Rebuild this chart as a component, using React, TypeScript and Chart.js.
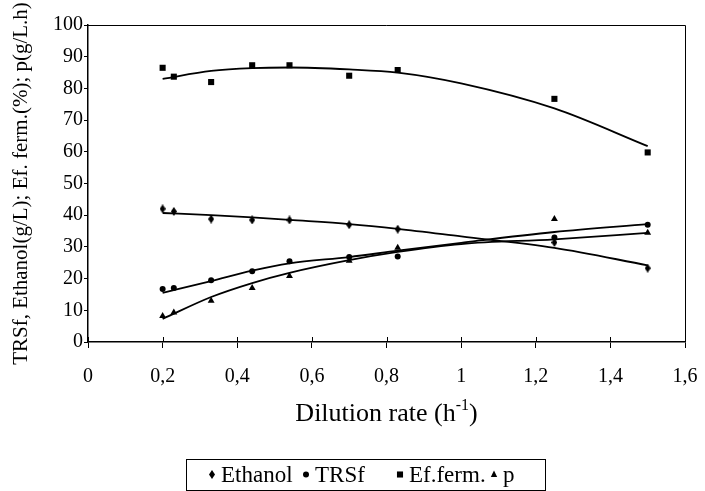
import React, { useEffect, useRef } from 'react';
import { Chart, registerables } from 'chart.js';

Chart.register(...registerables);

// ---- data ----
const dilutionRate = [0.2, 0.23, 0.33, 0.44, 0.54, 0.7, 0.83, 1.25, 1.5];
const ethanol = [42, 41.2, 38.8, 38.5, 38.5, 37, 35.6, 31.4, 23.3];
const trsf = [16.7, 17, 19.5, 22.3, 25.5, 26.8, 27, 33, 37];
const efFerm = [86.5, 83.7, 82, 87.3, 87.3, 84, 85.8, 76.7, 59.8];
const productivity = [8.2, 9.3, 13, 17, 20.8, 25.6, 29.7, 38.8, 34.5];

// trend lines (at these dilution rates)
const trendX = [0.2, 0.33, 0.44, 0.54, 0.7, 0.83, 1.0, 1.25, 1.5];
const ethanolTrend = [40.7, 40, 39.3, 38.5, 37.2, 35.7, 33.3, 29.7, 24.2];
const trsfTrend = [15.5, 19.2, 22.5, 24.8, 26.8, 28.8, 31.3, 34.7, 37.2];
const efFermTrend = [83, 85.5, 86.4, 86.6, 86, 85, 81.6, 73.7, 61.8];
const productivityTrend = [7.3, 14.2, 18.6, 21.8, 25.8, 28.4, 30.9, 32.4, 34.4];

const xTickLabels = ['0', '0,2', '0,4', '0,6', '0,8', '1', '1,2', '1,4', '1,6'];
const yTickLabels = ['0', '10', '20', '30', '40', '50', '60', '70', '80', '90', '100'];

const seriesLabels = ['Ethanol', 'TRSf', 'Ef.ferm.', 'p'];
const yTitle = 'TRSf, Ethanol(g/L); Ef. ferm.(%); p(g/L.h)';
const xTitleMain = 'Dilution rate (h';
const xTitleSup = '-1';
const xTitleEnd = ')';

const FONT = "'Liberation Serif', 'Times New Roman', serif";

function makeDiamond(w: number, h: number): HTMLCanvasElement {
  const c = document.createElement('canvas');
  c.width = w;
  c.height = h;
  const g = c.getContext('2d')!;
  g.fillStyle = '#000';
  g.beginPath();
  g.moveTo(w / 2, 0);
  g.lineTo(w, h / 2);
  g.lineTo(w / 2, h);
  g.lineTo(0, h / 2);
  g.closePath();
  g.fill();
  return c;
}

const pts = (xs: number[], ys: number[]) => xs.map((x, i) => ({ x, y: ys[i] }));

export default function App() {
  const ref = useRef<HTMLCanvasElement>(null);

  useEffect(() => {
    let chart: Chart | null = null;
    let cancelled = false;

    const build = () => {
      if (cancelled || !ref.current) return;
      const diamond = makeDiamond(6, 9);
      const styles: any[] = [diamond, 'circle', 'rect', 'triangle'];
      const radii = [4, 3, 4.3, 4];

      const decor = {
        id: 'decor',
        afterDraw(ch: any) {
          const { ctx, chartArea } = ch;
          const { left, right, top, bottom } = chartArea;
          ctx.save();
          ctx.strokeStyle = '#000';
          ctx.lineWidth = 1;
          ctx.beginPath();
          ctx.moveTo(left, top + 0.5);
          ctx.lineTo(right + 0.5, top + 0.5);
          ctx.lineTo(right + 0.5, bottom);
          ctx.stroke();
          const xs = ch.scales.x;
          xs.ticks.forEach((t: any) => {
            const px = Math.round(xs.getPixelForValue(t.value)) + 0.5;
            ctx.beginPath();
            ctx.moveTo(px, bottom);
            ctx.lineTo(px, bottom - 5);
            ctx.stroke();
          });
          // x title with superscript
          ctx.fillStyle = '#000';
          ctx.textBaseline = 'alphabetic';
          const bigFont = `26px ${FONT}`;
          const supFont = `16px ${FONT}`;
          ctx.font = bigFont;
          const w1 = ctx.measureText(xTitleMain).width;
          const w3 = ctx.measureText(xTitleEnd).width;
          ctx.font = supFont;
          const w2 = ctx.measureText(xTitleSup).width;
          const total = w1 + w2 + w3;
          const cx = (left + right) / 2;
          const x0 = cx - total / 2;
          const base = 421;
          ctx.textAlign = 'left';
          ctx.font = bigFont;
          ctx.fillText(xTitleMain, x0, base);
          ctx.font = supFont;
          ctx.fillText(xTitleSup, x0 + w1, base - 11);
          ctx.font = bigFont;
          ctx.fillText(xTitleEnd, x0 + w1 + w2, base);

          // legend
          const bx = 186, by = 459, bw = 359, bh = 31;
          ctx.lineWidth = 1;
          ctx.strokeRect(bx + 0.5, by + 0.5, bw, bh);
          ctx.font = `23px ${FONT}`;
          ctx.textBaseline = 'middle';
          const cy = by + bh / 2 + 1;
          const colW = 94;
          const startX = bx + 22;
          seriesLabels.forEach((lab, i) => {
            const colX = startX + i * colW;
            const mx = colX + 4;
            const st = styles[i];
            const r = radii[i];
            ctx.fillStyle = '#000';
            if (st === 'circle') {
              ctx.beginPath();
              ctx.arc(mx, cy - 1, r, 0, Math.PI * 2);
              ctx.fill();
            } else if (st === 'rect') {
              const s = r * Math.SQRT1_2;
              ctx.fillRect(mx - s, cy - 1 - s, 2 * s, 2 * s);
            } else if (st === 'triangle') {
              ctx.beginPath();
              ctx.moveTo(mx, cy - 1 - r);
              ctx.lineTo(mx + r * 0.8, cy - 1 + r * 0.6);
              ctx.lineTo(mx - r * 0.8, cy - 1 + r * 0.6);
              ctx.closePath();
              ctx.fill();
            } else {
              ctx.drawImage(st, mx - st.width / 2, cy - 1 - st.height / 2);
            }
            ctx.fillText(lab, colX + 13, cy);
          });
          ctx.restore();
        },
      };

      const scatterSets = [ethanol, trsf, efFerm, productivity].map((ys, i) => ({
        type: 'scatter' as const,
        label: seriesLabels[i],
        data: pts(dilutionRate, ys),
        pointStyle: styles[i],
        pointRadius: radii[i],
        backgroundColor: '#000',
        borderColor: '#000',
        borderWidth: 0,
        showLine: false,
      }));
      const trendSets = [ethanolTrend, trsfTrend, efFermTrend, productivityTrend].map((ys, i) => ({
        type: 'line' as const,
        label: seriesLabels[i] + ' trend',
        data: pts(trendX, ys),
        borderColor: '#000',
        borderWidth: 1.8,
        pointRadius: 0,
        fill: false,
        cubicInterpolationMode: 'monotone' as const,
      }));

      chart = new Chart(ref.current, {
        type: 'scatter',
        data: { datasets: [...trendSets, ...scatterSets] as any },
        plugins: [decor],
        options: {
          responsive: false,
          animation: false,
          devicePixelRatio: 1,
          layout: { padding: { top: 25, right: 20, bottom: 65, left: 0 } },
          plugins: { legend: { display: false }, tooltip: { enabled: false } },
          scales: {
            x: {
              type: 'linear',
              min: 0,
              max: 1.6,
              afterFit: (s: any) => {
                s.height = 84;
                s.paddingRight = 0;
                s.paddingLeft = 0;
              },
              ticks: {
                stepSize: 0.2,
                autoSkip: false,
                maxRotation: 0,
                color: '#000',
                padding: 17,
                font: { family: FONT, size: 20 },
                callback: (_v: any, i: number) => xTickLabels[i],
              },
              grid: { drawOnChartArea: false, drawTicks: true, tickLength: 6, color: '#000', lineWidth: 1 },
              border: { display: true, color: '#000', width: 1.5 },
            },
            y: {
              min: 0,
              max: 100,
              afterFit: (s: any) => {
                s.width = 88;
                s.paddingTop = 0;
                s.paddingBottom = 0;
              },
              ticks: {
                stepSize: 10,
                color: '#000',
                padding: 1,
                font: { family: FONT, size: 20 },
                callback: (_v: any, i: number) => yTickLabels[i],
              },
              grid: { drawOnChartArea: false, drawTicks: true, tickLength: 4, color: '#000', lineWidth: 1 },
              border: { display: true, color: '#000', width: 1.5 },
              title: {
                display: true,
                text: yTitle,
                color: '#000',
                font: { family: FONT, size: 21 },
                padding: { top: 9, bottom: 0 },
              },
            },
          },
        } as any,
      });
    };

    const loads = [16, 20, 21, 23, 26].map((s) => document.fonts.load(`${s}px 'Liberation Serif'`));
    Promise.all(loads).then(build, build);

    return () => {
      cancelled = true;
      if (chart) chart.destroy();
    };
  }, []);

  return (
    <div style={{ position: 'absolute', left: 0, top: 0, width: 705, height: 491, background: '#fff' }}>
      <canvas ref={ref} width={705} height={491} style={{ display: 'block' }} />
    </div>
  );
}
